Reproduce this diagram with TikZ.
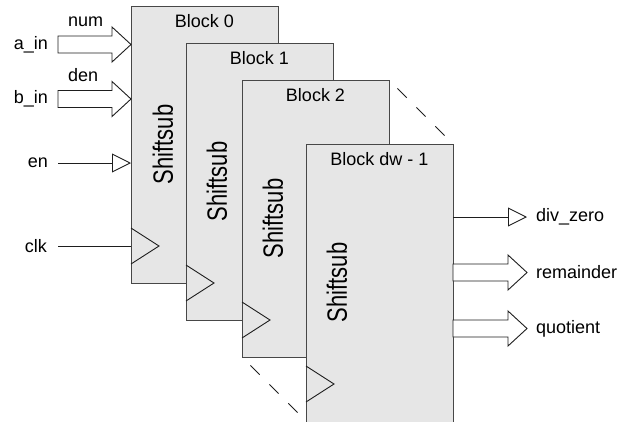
\documentclass[tikz,border=0pt]{standalone}
\usepackage{fontspec}
\setmainfont{Liberation Sans}
\usetikzlibrary{calc,arrows.meta}

\definecolor{blockfill}{HTML}{E6E6E6}
\definecolor{blockedge}{HTML}{474747}
\definecolor{wire}{HTML}{1E1E1E}

% hollow bus arrow: #1 = tail point (shaft middle), #2 = tip point
\newcommand\busarrow[2]{%
  \draw[bus] let \p1=(#1), \p2=(#2) in
    (\x1,\y1+8.5pt) -- (\x2-19pt,\y1+8.5pt) -- (\x2-19pt,\y1+17.5pt)
    -- (\x2,\y1) -- (\x2-19pt,\y1-17.5pt) -- (\x2-19pt,\y1-8.5pt)
    -- (\x1,\y1-8.5pt) -- cycle;}

% clock input marker on the left edge of a stage
\newcommand\clocktri[1]{%
  \draw[clock] ([yshift=-222pt]#1.north west)
    -- ([shift={(28pt,-240pt)}]#1.north west)
    -- ([yshift=-258pt]#1.north west);}

\begin{document}
\begin{tikzpicture}[x=1pt,y=-1pt,
  stage/.style={draw=blockedge, fill=blockfill, line width=1pt,
    minimum width=147pt, minimum height=277pt, anchor=north west,
    inner sep=0pt, outer sep=0pt},
  title/.style={anchor=base, inner sep=0pt, font=\fontsize{18}{20}\selectfont},
  core/.style={rotate=90, inner sep=0pt, font=\fontsize{22}{24}\selectfont},
  sig/.style={inner sep=0pt, font=\fontsize{18}{20}\selectfont},
  bus/.style={draw=wire, fill=white, line width=0.9pt, line join=miter},
  wireline/.style={draw=wire, line width=0.9pt},
  bit/.style={wireline, -{Triangle[open, length=19pt, width=19pt]}},
  clock/.style={draw=wire, line width=0.9pt},
  gap/.style={draw=wire, line width=0.9pt, dash pattern=on 13pt off 13.75pt,
    shorten <=12pt, shorten >=12pt}]

\useasboundingbox (0,0) rectangle (634,421);

% ---- stage 0 ----
\node[stage] (b0) at (131,6) {};
\node[title] (t0) at ([yshift=-21pt]b0.north) {Block 0};
\node[core] (c0) at ([xshift=32pt]b0.west) {\scalebox{1}[1.27]{Shiftsub}};
\clocktri{b0}

% inputs into stage 0
\node[sig, anchor=east] (ain) at (48,44.5) {a\_in};
\node[sig, anchor=east] (bin) at (48,99) {b\_in};
\node[sig, anchor=east] (en)  at (48,163) {en};
\node[sig, anchor=east] (clk) at (47,246) {clk};
\node[sig, anchor=base west] (num) at (68,26) {num};
\node[sig, anchor=base west] (den) at (68,81.5) {den};

\busarrow{[xshift=10pt]ain.east}{ain.east -| b0.west}
\busarrow{[xshift=10pt]bin.east}{bin.east -| b0.west}
\draw[bit] ([xshift=10pt]en.east) -- (en.east -| b0.west);
\draw[wireline] ([xshift=11pt]clk.east) -- (clk.east -| b0.west);

% ---- stage 1 ----
\node[stage] (b1) at (186,43) {};
\node[title] (t1) at ([yshift=-21pt]b1.north) {Block 1};
\node[core] (c1) at ([xshift=31pt]b1.west) {\scalebox{1}[1.27]{Shiftsub}};
\clocktri{b1}

% ---- stage 2 ----
\node[stage] (b2) at (242,80) {};
\node[title] (t2) at ([yshift=-21pt]b2.north) {Block 2};
\node[core] (c2) at ([xshift=31pt]b2.west) {\scalebox{1}[1.27]{Shiftsub}};
\clocktri{b2}

% ---- last stage ----
\node[stage, minimum height=280pt] (b3) at (306,144) {};
\node[title] (t3) at ([yshift=-21pt]b3.north) {Block dw - 1};
\node[core] (c3) at ([shift={(31pt,1.5pt)}]b3.west) {\scalebox{1}[1.27]{Shiftsub}};
\clocktri{b3}

% elided stages between block 2 and the last one
\draw[gap] (b2.north east) -- (b3.north east);
\draw[gap] (b2.south west) -- ([yshift=3pt]b3.south west);

% outputs of the last stage
\node[sig, anchor=west] (dz)  at (536,217) {div\_zero};
\node[sig, anchor=west] (rem) at (536,272.5) {remainder};
\node[sig, anchor=west] (quo) at (536,328.5) {quotient};

\draw[bit] (dz.west -| b3.east) -- ([xshift=-9pt]dz.west);
\busarrow{rem.west -| b3.east}{[xshift=-9pt]rem.west}
\busarrow{quo.west -| b3.east}{[xshift=-9pt]quo.west}

\end{tikzpicture}
\end{document}
